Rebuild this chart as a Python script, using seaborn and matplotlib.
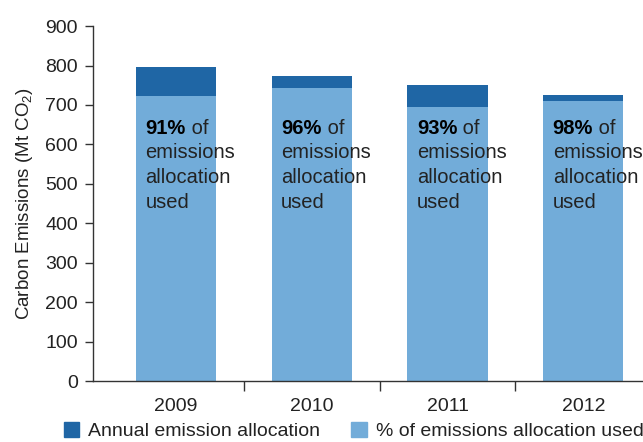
import matplotlib
matplotlib.use("Agg")
import matplotlib.pyplot as plt
import matplotlib.patches as mpatches
import pandas as pd
import seaborn as sns

years = ["2009", "2010", "2011", "2012"]
allocation = [797, 774, 751, 726]
used = [723, 744, 696, 711]
pct_labels = ["91%", "96%", "93%", "98%"]

DARK = "#1f66a5"
LIGHT = "#72acd9"
TEXT = "#222222"

sns.set_theme(style="white")
plt.rcParams["font.family"] = ["Liberation Sans", "DejaVu Sans"]
plt.rcParams["mathtext.fontset"] = "custom"
plt.rcParams["mathtext.rm"] = "Liberation Sans"
plt.rcParams["mathtext.it"] = "Liberation Sans"

df = pd.DataFrame({"year": years, "allocation": allocation, "used": used})

fig = plt.figure(figsize=(6.43, 4.42), dpi=100)
ax = fig.add_axes([0.145, 0.138, 0.855, 0.803])

sns.barplot(data=df, x="year", y="allocation", color=DARK, width=0.59,
            saturation=1, linewidth=0, edgecolor="none", ax=ax)
sns.barplot(data=df, x="year", y="used", color=LIGHT, width=0.59,
            saturation=1, linewidth=0, edgecolor="none", ax=ax)

ax.set_ylim(0, 900)
ax.set_xlim(-0.61, 3.44)
ax.set_yticks(range(0, 1000, 100))
ax.set_xlabel("")
ax.set_ylabel("Carbon Emissions (Mt CO$_2$)", fontsize=13.5, color=TEXT, labelpad=7)

for side in ["top", "right"]:
    ax.spines[side].set_visible(False)
for side in ["left", "bottom"]:
    ax.spines[side].set_color("#333333")
    ax.spines[side].set_linewidth(1.0)

ax.tick_params(axis="y", length=6, width=1, color="#333333", labelsize=14,
               labelcolor=TEXT, pad=5, left=True)
ax.tick_params(axis="x", which="major", length=0, labelsize=14,
               labelcolor=TEXT, pad=12)
ax.set_xticks([0.5, 1.5, 2.5], minor=True)
ax.tick_params(axis="x", which="minor", length=7, width=1, color="#333333",
               bottom=True)

# in-bar annotations
for i, pct in enumerate(pct_labels):
    t = ax.text(i - 0.225, 665, pct, fontsize=14.5, fontweight="bold",
                color="black", ha="left", va="top")
    ax.annotate(" of", xy=(1, 0), xycoords=t, fontsize=14.5, color=TEXT,
                ha="left", va="bottom")
    ax.annotate("emissions\nallocation\nused", xy=(0, 0), xycoords=t,
                xytext=(0, -4), textcoords="offset points",
                fontsize=14.5, color=TEXT, ha="left", va="top",
                linespacing=1.4)

handles = [mpatches.Patch(color=DARK, label="Annual emission allocation"),
           mpatches.Patch(color=LIGHT, label="% of emissions allocation used")]
fig.legend(handles=handles, loc="lower left", bbox_to_anchor=(0.072, -0.036),
           ncol=2, frameon=False, fontsize=14, handlelength=0.8,
           handleheight=0.8, handletextpad=0.45, columnspacing=1.6,
           labelcolor=TEXT)

fig.savefig("out.png", dpi=100)
